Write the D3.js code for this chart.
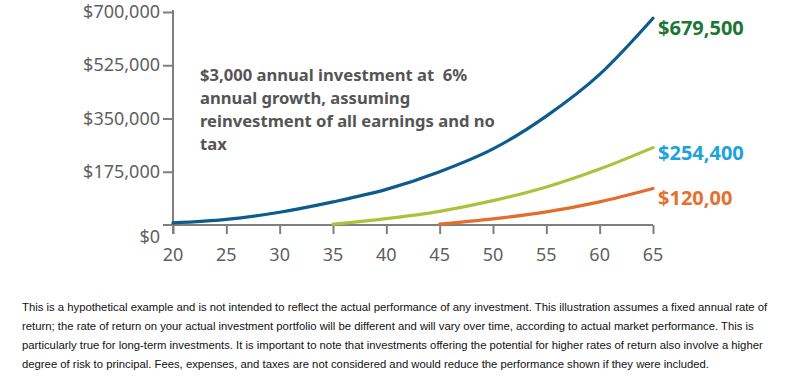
<!DOCTYPE html>
<html>
<head>
<meta charset="utf-8">
<script src="https://cdn.jsdelivr.net/npm/d3@7"></script>
<style>
  body { margin: 0; background: #fff; }
  svg { display: block; }
</style>
</head>
<body>
<div id="chart"></div>
<script>
// ages and balances
var ages = [20, 25, 30, 35, 40, 45, 50, 55, 60, 65];
var startAt20 = [7000, 18500, 42000, 76000, 117000, 175000, 250000, 358000, 495000, 679500];
var startAt35 = [3000, 21000, 45000, 80000, 125000, 184000, 254400];
var startAt45 = [3000, 20000, 43000, 76000, 120000];
var yTicks = [0, 175000, 350000, 525000, 700000];
var xTicks = [20, 25, 30, 35, 40, 45, 50, 55, 60, 65];
var endLabels = ["$679,500", "$254,400", "$120,00"];
var note = ["$3,000 annual investment at  6%", "annual growth, assuming", "reinvestment of all earnings and no", "tax"];
var footer = [
	"This is a hypothetical example and is not intended to reflect the actual performance of any investment. This illustration assumes a fixed annual rate of",
	"return; the rate of return on your actual investment portfolio will be different and will vary over time, according to actual market performance. This is",
	"particularly true for long-term investments. It is important to note that investments offering the potential for higher rates of return also involve a higher",
	"degree of risk to principal. Fees, expenses, and taxes are not considered and would reduce the performance shown if they were included."
];

var width = 809, height = 377;
var axisColor = "#7f7f7f";
var tickFont = "'Noto Sans', sans-serif";

var svg = d3.select("#chart").append("svg")
	.attr("width", width)
	.attr("height", height);

var x = d3.scaleLinear().domain([20, 65]).range([173, 653]);
var y = d3.scaleLinear().domain([0, 700000]).range([225, 12]);

var series = [
	{ ages: ages, values: startAt20, color: "#0e5b8e", label: endLabels[0], labelColor: "#1c7634", dy: 17 },
	{ ages: ages.slice(3), values: startAt35, color: "#a9c43c", label: endLabels[1], labelColor: "#1ea2da", dy: 12 },
	{ ages: ages.slice(5), values: startAt45, color: "#e36c2e", label: endLabels[2], labelColor: "#e8702e", dy: 17 }
];

var fmt = d3.format("$,");

// y axis
var gy = svg.append("g").attr("transform", "translate(173,0)")
	.call(d3.axisLeft(y).tickValues(yTicks.slice(1)).tickSize(10).tickFormat(""));
gy.select(".domain").remove();
gy.selectAll("line").attr("stroke", axisColor).attr("stroke-width", 2);

svg.append("g").selectAll("text").data(yTicks).enter().append("text")
	.attr("x", 160)
	.attr("y", function(d){ return y(d) + (d === 0 ? 18 : 6); })
	.attr("text-anchor", "end")
	.attr("fill", "#5f5f5f")
	.style("font-family", tickFont)
	.style("font-size", "18px")
	.text(function(d){ return fmt(d); });

// x axis
var gx = svg.append("g").attr("transform", "translate(0," + y(0) + ")")
	.call(d3.axisBottom(x).tickValues(xTicks).tickSize(9).tickFormat(""));
gx.select(".domain").remove();
gx.selectAll("line").attr("stroke", axisColor).attr("stroke-width", 2);

svg.append("g").selectAll("text").data(xTicks).enter().append("text")
	.attr("x", function(d){ return x(d); })
	.attr("y", y(0) + 36)
	.attr("text-anchor", "middle")
	.attr("fill", "#5f5f5f")
	.style("font-family", tickFont)
	.style("font-size", "18px")
	.text(function(d){ return d; });

// axis lines, crossing at origin
svg.append("line")
	.attr("x1", x(20)).attr("x2", x(20))
	.attr("y1", y(700000) - 2).attr("y2", y(0) + 9)
	.attr("stroke", axisColor).attr("stroke-width", 2);
svg.append("line")
	.attr("x1", x(20) - 10).attr("x2", x(65))
	.attr("y1", y(0)).attr("y2", y(0))
	.attr("stroke", axisColor).attr("stroke-width", 2);

// curves
var line = d3.line()
	.x(function(d){ return x(d[0]); })
	.y(function(d){ return y(d[1]); })
	.curve(d3.curveMonotoneX);

series.forEach(function(s){
	var pts = s.ages.map(function(a, i){ return [a, s.values[i]]; });
	svg.append("path")
		.datum(pts)
		.attr("d", line)
		.attr("fill", "none")
		.attr("stroke", s.color)
		.attr("stroke-width", 3.2)
		.attr("stroke-linecap", "round");

	var last = pts[pts.length - 1];
	svg.append("text")
		.attr("x", x(last[0]) + 5)
		.attr("y", y(last[1]) + s.dy)
		.attr("fill", s.labelColor)
		.style("font-family", tickFont)
		.style("font-weight", "bold")
		.style("font-size", "20px")
		.text(s.label);
});

// annotation
svg.append("g").selectAll("text").data(note).enter().append("text")
	.attr("x", 200)
	.attr("y", function(d, i){ return 81 + i * 23; })
	.attr("fill", "#555")
	.style("font-family", tickFont)
	.style("font-weight", "bold")
	.style("font-size", "16.6px")
	.style("white-space", "pre")
	.text(function(d){ return d; });

// disclaimer
svg.append("g").selectAll("text").data(footer).enter().append("text")
	.attr("x", 22)
	.attr("y", function(d, i){ return 311 + i * 19; })
	.attr("fill", "#111")
	.style("font-family", "'Liberation Sans', Arial, sans-serif")
	.style("font-size", "11.3px")
	.text(function(d){ return d; });
</script>
</body>
</html>
